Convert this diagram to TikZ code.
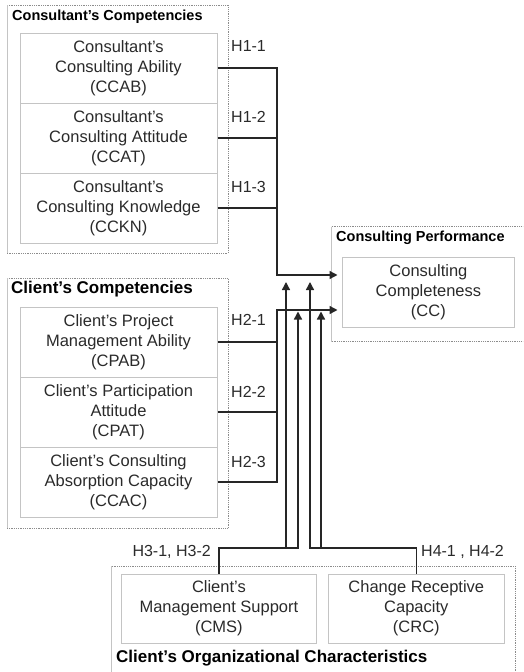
\documentclass[tikz,border=0pt]{standalone}
\usepackage{fontspec}
\setmainfont{Liberation Sans}
\usetikzlibrary{arrows.meta}
\definecolor{txt}{HTML}{2A2A2A}
\definecolor{boxline}{HTML}{C4C4C4}
\definecolor{grpline}{HTML}{8C8C8C}
\definecolor{connc}{HTML}{262626}
\tikzset{
  inbox/.style={draw=boxline, line width=1pt, align=center, inner sep=0pt, text=txt,
    font=\fontsize{16.5}{20}\selectfont},
  hlab/.style={anchor=west, inner sep=0pt, text=txt, font=\fontsize{16}{19}\selectfont},
  grptitle/.style={anchor=base west, inner sep=0pt, font=\bfseries\fontsize{14.5}{17}\selectfont},
  grptitlebig/.style={anchor=base west, inner sep=0pt, font=\bfseries\fontsize{17}{20}\selectfont},
  grpdot/.style={draw=grpline, line width=0.8pt, dash pattern=on 0.9pt off 0.9pt},
  grpleft/.style={draw=boxline, line width=1pt},
  connline/.style={draw=connc, line width=1.4pt},
  connarrow/.style={connline, -{Triangle[length=8pt,width=8pt]}},
}
\begin{document}
\begin{tikzpicture}[x=1pt,y=-1pt]
\useasboundingbox (0,0) rectangle (523,672);
\clip (0,0) rectangle (523,672);

% group frames
\draw[grpdot] (7,5) -- (228,5) -- (228,253) -- (7,253);
\draw[grpleft] (7,5) -- (7,253);
\draw[grpdot] (7,278.3) -- (228,278.3) -- (228,528.3) -- (7,528.3);
\draw[grpleft] (7,278.3) -- (7,528.3);
\draw[grpdot] (331.7,226.7) -- (540,226.7);
\draw[grpdot] (331.7,341.7) -- (540,341.7);
\draw[grpleft] (331.7,226.7) -- (331.7,341.7);
\draw[grpdot] (111.7,566) -- (515,566) -- (515,690);
\draw[grpleft] (111.7,566) -- (111.7,690);

% group titles
\node[grptitle] (t-cons) at (12,20.7) {Consultant's Competencies};
\node[grptitle] (t-perf) at (336,241.7) {Consulting Performance};
\node[grptitlebig] (t-cli) at (11,293.3) {Client's Competencies};
\node[grptitlebig] (t-org) at (116,662.7) {Client's Organizational Characteristics};

% inner boxes
\node[inbox, minimum width=197pt, minimum height=70pt] (ccab) at (118.5,68) {Consultant's\\Consulting Ability\\(CCAB)};
\node[inbox, minimum width=197pt, minimum height=70pt] (ccat) at (118.5,138) {Consultant's\\Consulting Attitude\\(CCAT)};
\node[inbox, minimum width=197pt, minimum height=70pt] (cckn) at (118.5,208) {Consultant's\\Consulting Knowledge\\(CCKN)};
\node[inbox, minimum width=197pt, minimum height=70pt] (cpab) at (118.5,342) {Client's Project\\Management Ability\\(CPAB)};
\node[inbox, minimum width=197pt, minimum height=70pt] (cpat) at (118.5,412) {Client's Participation\\Attitude\\(CPAT)};
\node[inbox, minimum width=197pt, minimum height=70pt] (ccac) at (118.5,482) {Client's Consulting\\Absorption Capacity\\(CCAC)};
\node[inbox, minimum width=171.3pt, minimum height=69.6pt] (cc) at (428.4,292.5) {Consulting\\Completeness\\(CC)};
\node[inbox, minimum width=194.3pt, minimum height=69.3pt] (cms) at (218.9,608.7) {Client's\\Management Support\\(CMS)};
\node[inbox, minimum width=176pt, minimum height=69.3pt] (crc) at (416.3,608.7) {Change Receptive\\Capacity\\(CRC)};

% hypothesis labels
\node[hlab] (h11) at (231,46) {H1-1};
\node[hlab] (h12) at (231,117) {H1-2};
\node[hlab] (h13) at (231,187) {H1-3};
\node[hlab] (h21) at (231,320) {H2-1};
\node[hlab] (h22) at (231,391.7) {H2-2};
\node[hlab] (h23) at (231,461.7) {H2-3};
\node[hlab, anchor=east] (h3) at (211,552) {H3-1, H3-2};
\node[hlab] (h4) at (421,552) {H4-1 , H4-2};

% coordinates
\coordinate (j1) at (277,275);
\coordinate (t1) at (337.5,275);
\coordinate (j2) at (277,310);
\coordinate (t2) at (337.5,310);
\coordinate (mA) at (286,548);
\coordinate (mB) at (298,548);
\coordinate (mC) at (310,548);
\coordinate (mD) at (321,548);
\coordinate (pA) at (286,282);
\coordinate (pB) at (298,311.5);
\coordinate (pC) at (310,282);
\coordinate (pD) at (321,311.5);

% H1 paths
\draw[connline] (ccab.east) -| (j1);
\draw[connline] (ccat.east) -| (j1);
\draw[connarrow] (cckn.east) -| (j1) -- (t1);

% H2 paths
\draw[connarrow] (cpab.east) -| (j2) -- (t2);
\draw[connline] (cpat.east) -| (j2);
\draw[connline] (ccac.east) -| (j2);

% moderators
\draw[connarrow] (cms.north) |- (mB) -- (pB);
\draw[connarrow] (mA) -- (pA);
\draw[connarrow] (crc.north) |- (mC) -- (pC);
\draw[connarrow] (mD) -- (pD);
\end{tikzpicture}
\end{document}
